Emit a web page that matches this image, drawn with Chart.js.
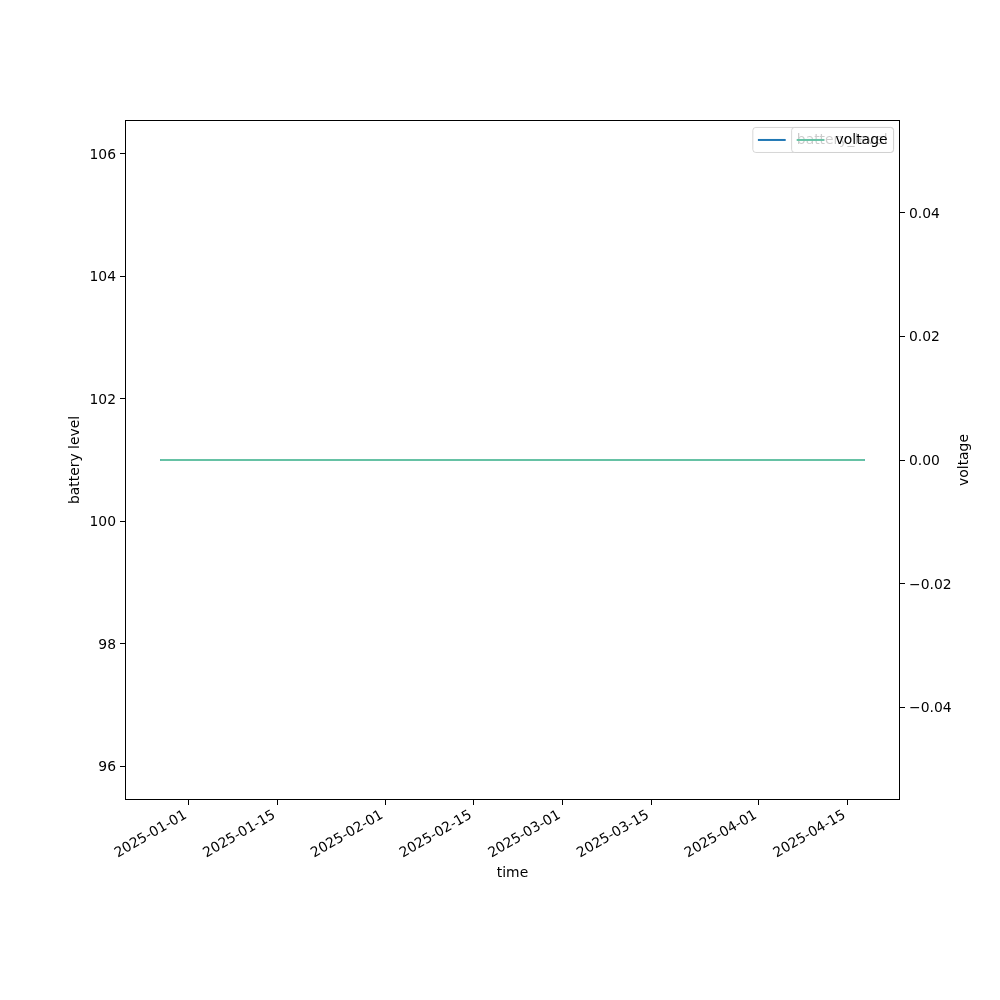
<!DOCTYPE html>
<html>
<head>
<meta charset="utf-8">
<script src="https://cdn.jsdelivr.net/npm/chart.js@4"></script>
<style>
  body { margin: 0; background: #fff; }
  #wrap { width: 1000px; height: 1000px; }
</style>
</head>
<body>
<div id="wrap"><canvas id="batteryChart" width="1000" height="1000"></canvas></div>
<script>
// data
const timeStamps = ['2024-12-27T12:00', '2025-04-17T17:00'];
const batteryLevel = [101, 101];
const voltage = [0, 0];

// tick labels
const xTickLabels = ['2025-01-01', '2025-01-15', '2025-02-01', '2025-02-15',
                     '2025-03-01', '2025-03-15', '2025-04-01', '2025-04-15'];
const leftTicks = [96, 98, 100, 102, 104, 106];
const rightTicks = [-0.04, -0.02, 0, 0.02, 0.04];

const FONT = 'DejaVu Sans';
const FS = 13.9;

// days since 2025-01-01 (utc)
const origin = Date.UTC(2025, 0, 1);
function toDays(s) {
    const p = s.split(/[-T:]/).map(Number);
    return (Date.UTC(p[0], p[1] - 1, p[2], p[3] || 0, p[4] || 0) - origin) / 86400000;
}
function dayLabel(d) {
    const dt = new Date(origin + d * 86400000);
    return dt.toISOString().slice(0, 10);
}

const xs = timeStamps.map(toDays);
const xSpan = xs[xs.length - 1] - xs[0];
const xMin = xs[0] - 0.05 * xSpan;
const xMax = xs[xs.length - 1] + 0.05 * xSpan;

const batteryPts = xs.map((x, i) => ({ x: x, y: batteryLevel[i] }));
const voltagePts = xs.map((x, i) => ({ x: x, y: voltage[i] }));

// frame, axis titles and the two overlapping legends (like matplotlib)
const extras = {
    id: 'extras',
    afterDraw(chart) {
        const ctx = chart.ctx;
        const a = chart.chartArea;
        ctx.save();
        ctx.strokeStyle = '#000';
        ctx.lineWidth = 1;
        ctx.strokeRect(Math.round(a.left) + 0.5, Math.round(a.top) + 0.5,
                       Math.round(a.right - a.left) - 1, Math.round(a.bottom - a.top) - 1);

        ctx.fillStyle = '#000';
        ctx.font = FS + 'px "' + FONT + '"';
        ctx.textAlign = 'center';
        ctx.textBaseline = 'middle';
        ctx.fillText('time', (a.left + a.right) / 2, 873);

        ctx.save();
        ctx.translate(75, (a.top + a.bottom) / 2);
        ctx.rotate(-Math.PI / 2);
        ctx.fillText('battery level', 0, 0);
        ctx.restore();

        ctx.save();
        ctx.translate(964, (a.top + a.bottom) / 2);
        ctx.rotate(-Math.PI / 2);
        ctx.fillText('voltage', 0, 0);
        ctx.restore();

        // legends: each one in upper right, the second drawn over the first
        const pad = 0.4 * FS, handle = 2 * FS, gap = 0.8 * FS;
        const right = a.right - 0.5 * FS;
        const top = a.top + 0.5 * FS;
        const h = 2 * pad + FS;
        chart.data.datasets.forEach(ds => {
            ctx.font = FS + 'px "' + FONT + '"';
            const w = pad + handle + gap + ctx.measureText(ds.label).width + pad;
            const left = right - w;
            ctx.globalAlpha = 0.8;
            ctx.beginPath();
            ctx.roundRect(left + 0.5, top + 0.5, w, h, 3);
            ctx.fillStyle = '#fff';
            ctx.fill();
            ctx.strokeStyle = '#cccccc';
            ctx.lineWidth = 1;
            ctx.stroke();
            ctx.globalAlpha = 1;
            const cy = top + h / 2 + 0.5;
            ctx.beginPath();
            ctx.moveTo(left + pad, cy);
            ctx.lineTo(left + pad + handle, cy);
            ctx.strokeStyle = ds.borderColor;
            ctx.lineWidth = 2;
            ctx.stroke();
            ctx.fillStyle = '#000';
            ctx.textAlign = 'left';
            ctx.textBaseline = 'middle';
            ctx.fillText(ds.label, left + pad + handle + gap, cy);
        });
        ctx.restore();
    }
};

const tickStyle = {
    drawOnChartArea: false,
    drawTicks: true,
    tickLength: 5,
    tickColor: '#000',
    tickWidth: 1
};

const ctx = document.getElementById('batteryChart').getContext('2d');
const batteryChart = new Chart(ctx, {
    type: 'line',
    data: {
        datasets: [
            {
                label: 'battery_level',
                data: batteryPts,
                yAxisID: 'y',
                borderColor: '#1f77b4',
                borderWidth: 2,
                pointRadius: 0,
                fill: false,
                order: 2 // drawn underneath voltage
            },
            {
                label: 'voltage',
                data: voltagePts,
                yAxisID: 'y1',
                borderColor: '#66c2a5',
                borderWidth: 2,
                pointRadius: 0,
                fill: false,
                order: 1
            }
        ]
    },
    options: {
        responsive: false,
        animation: false,
        layout: { padding: { top: 120, left: 0, right: 0, bottom: 0 } },
        plugins: {
            legend: { display: false },
            tooltip: { enabled: false }
        },
        scales: {
            x: {
                type: 'linear',
                min: xMin,
                max: xMax,
                grid: tickStyle,
                border: { display: false },
                afterBuildTicks: scale => {
                    scale.ticks = xTickLabels.map(l => ({ value: toDays(l) }));
                },
                afterFit: scale => { scale.height = 200; },
                ticks: {
                    autoSkip: false,
                    minRotation: 30,
                    maxRotation: 30,
                    padding: 2,
                    labelOffset: -3,
                    color: '#000',
                    font: { family: FONT, size: FS },
                    callback: v => dayLabel(v)
                }
            },
            y: {
                position: 'left',
                min: 95.45,
                max: 106.55,
                grid: tickStyle,
                border: { display: false },
                afterBuildTicks: scale => {
                    scale.ticks = leftTicks.map(v => ({ value: v }));
                },
                afterFit: scale => { scale.width = 125; },
                ticks: {
                    padding: 4,
                    labelOffset: 1.5,
                    color: '#000',
                    font: { family: FONT, size: FS },
                    callback: v => String(v)
                }
            },
            y1: {
                position: 'right',
                min: -0.055,
                max: 0.055,
                grid: tickStyle,
                border: { display: false },
                afterBuildTicks: scale => {
                    scale.ticks = rightTicks.map(v => ({ value: v }));
                },
                afterFit: scale => { scale.width = 100; },
                ticks: {
                    padding: 4,
                    labelOffset: 1.5,
                    color: '#000',
                    font: { family: FONT, size: FS },
                    callback: v => (v < 0 ? '\u2212' : '') + Math.abs(v).toFixed(2)
                }
            }
        }
    },
    plugins: [extras]
});
</script>
</body>
</html>
